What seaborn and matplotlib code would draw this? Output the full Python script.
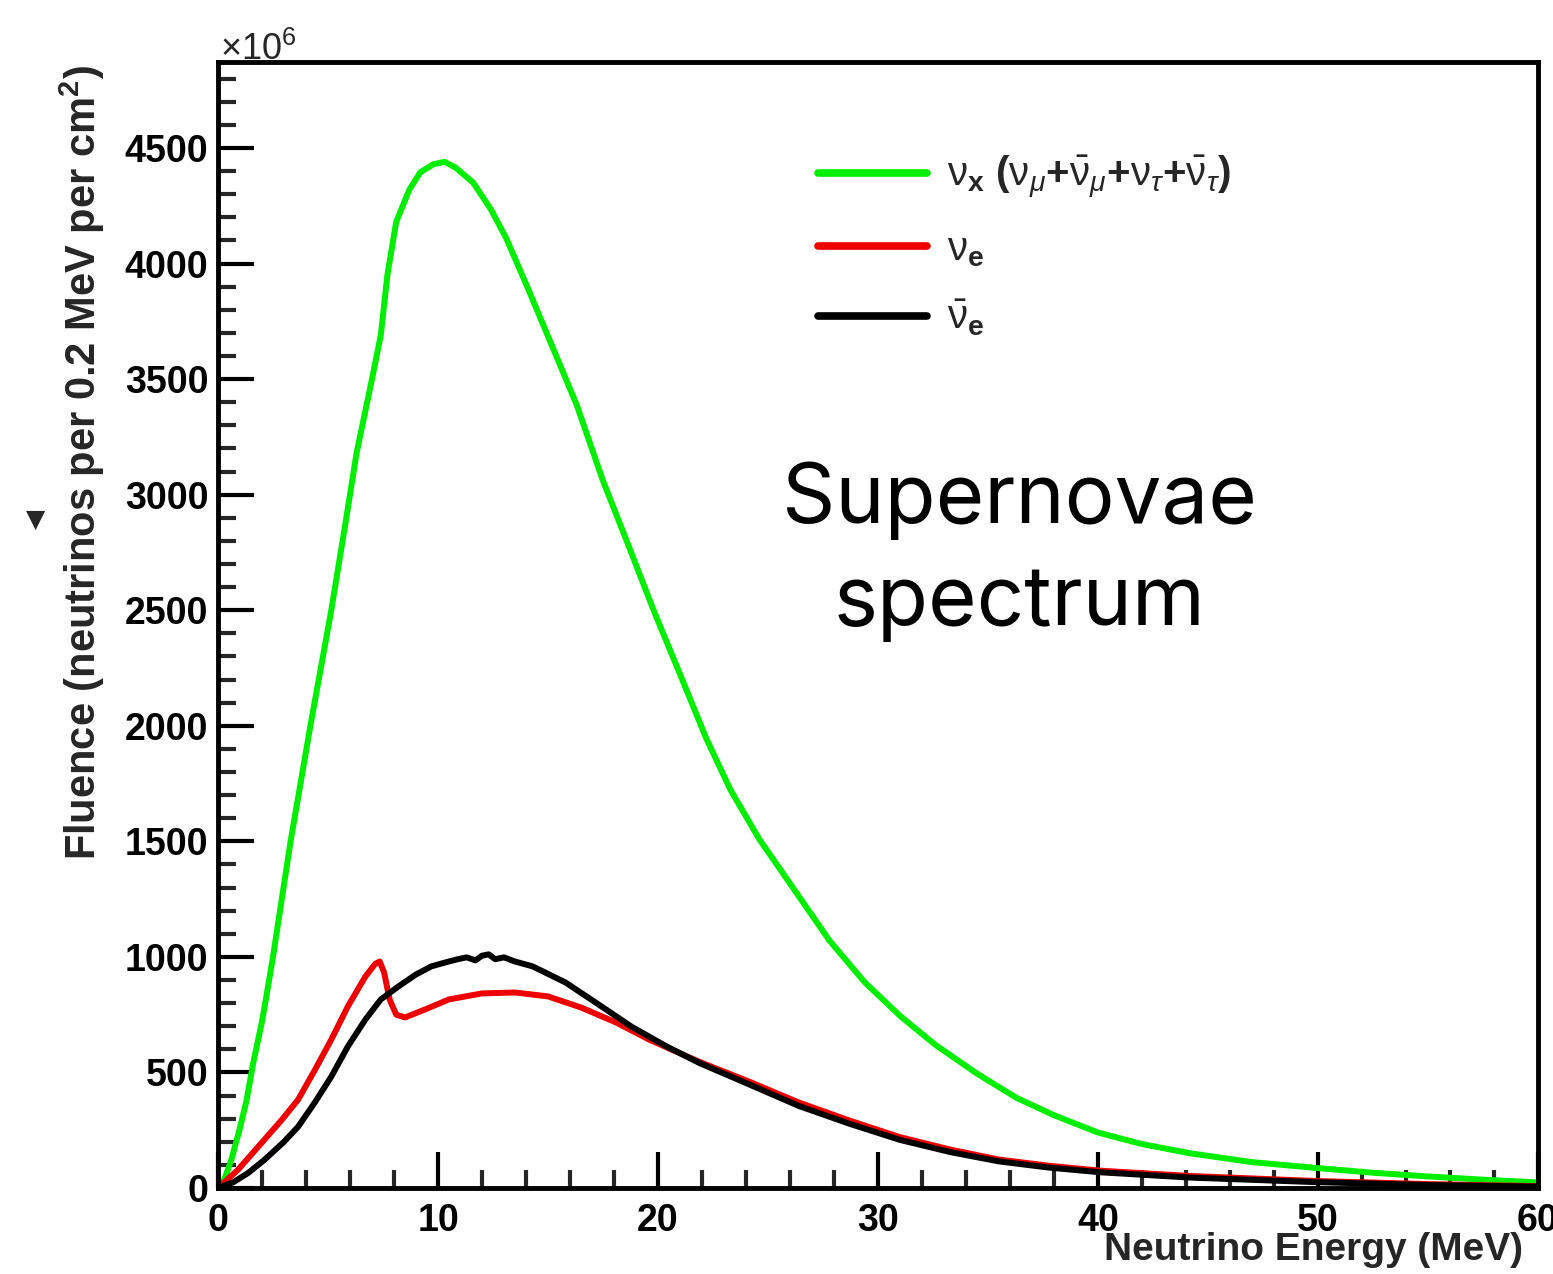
import matplotlib
matplotlib.use("Agg")
import matplotlib.pyplot as plt
from matplotlib.ticker import MultipleLocator, FixedLocator
import numpy as np
import pandas as pd
import seaborn as sns

# ---------------- data ----------------
energy_nux = [0, 0.3, 0.6, 1.0, 1.3, 1.6, 2.0, 2.2, 2.5, 3.3, 4.2, 5.15, 5.8, 6.3, 7.0,
              7.4, 7.7, 8.1, 8.7, 9.2, 9.8, 10.3, 10.8, 11.6, 12.4, 13.1, 14.1, 15.2,
              16.3, 17.5, 18.7, 19.8, 21.1, 22.2, 23.3, 24.6, 26.2, 27.8, 29.4, 31.0,
              32.6, 34.5, 36.3, 38.0, 40.0, 42.0, 44.2, 47.0, 50.0, 52.5, 55.0, 57.5, 60.0]
fluence_nux = [0, 40, 120, 260, 380, 540, 720, 830, 1000, 1500, 2000, 2500, 2880, 3180, 3500,
               3690, 3950, 4180, 4320, 4395, 4430, 4440, 4415, 4350, 4235, 4110, 3890, 3640,
               3390, 3060, 2770, 2500, 2200, 1944, 1722, 1510, 1290, 1070, 890, 745,
               620, 495, 390, 315, 240, 190, 150, 112, 86, 66, 50, 36, 24]

energy_nue = [0, 0.9, 2.1, 2.9, 3.64, 4.4, 5.15, 5.9, 6.7, 7.15, 7.35, 7.55, 7.8, 8.1, 8.5,
              9.4, 10.5, 12.0, 13.5, 15.0, 16.5, 18.1, 19.6, 21.9, 24.1, 26.4, 28.7, 31.0,
              33.3, 35.5, 37.8, 40.1, 44.2, 50.0, 55.0, 60.0]
fluence_nue = [0, 78, 208, 295, 382, 510, 642, 785, 915, 970, 980, 933, 816, 750, 738,
               772, 816, 842, 846, 829, 781, 716, 642, 545, 462, 370, 292, 220,
               166, 123, 96, 75, 52, 30, 17, 8]

energy_nuebar = [0, 0.7, 1.37, 2.1, 3.0, 3.64, 4.4, 5.15, 5.9, 6.7, 7.4, 8.2, 9.0, 9.7, 10.3,
                 10.9, 11.3, 11.7, 12.0, 12.3, 12.6, 13.0, 13.5, 14.3, 15.8, 17.3, 18.8, 20.4,
                 21.9, 24.1, 26.4, 28.7, 31.0, 33.3, 35.5, 37.8, 40.1, 44.2, 50.0, 55.0, 60.0]
fluence_nuebar = [0, 25, 65, 121, 200, 265, 370, 482, 612, 729, 816, 872, 924, 959, 975,
                  990, 998, 985, 1005, 1011, 990, 998, 980, 959, 889, 794, 698, 612,
                  540, 450, 355, 278, 208, 155, 115, 88, 68, 45, 25, 13, 6]

x_ticks = [0, 10, 20, 30, 40, 50, 60]
y_ticks = [0, 500, 1000, 1500, 2000, 2500, 3000, 3500, 4000, 4500]

labels = {
    "nux": r"$\mathrm{\nu}_{\mathbf{x}}\ \mathbf{(}\mathrm{\nu}_{\mu}\mathbf{+}\bar{\mathrm{\nu}}_{\mu}\mathbf{+}\mathrm{\nu}_{\tau}\mathbf{+}\bar{\mathrm{\nu}}_{\tau}\mathbf{)}$",
    "nue": r"$\mathrm{\nu}_{\mathbf{e}}$",
    "nuebar": r"$\bar{\mathrm{\nu}}_{\mathbf{e}}$",
}
colors = {"nux": "#00ee00", "nue": "#ee0000", "nuebar": "#000000"}

# ---------------- style ----------------
sns.set_theme(style="white")
plt.rcParams["font.family"] = ["Liberation Sans", "DejaVu Sans"]
plt.rcParams["mathtext.fontset"] = "custom"
plt.rcParams["mathtext.rm"] = "Liberation Sans"
plt.rcParams["mathtext.it"] = "Liberation Sans:italic"
plt.rcParams["mathtext.bf"] = "Liberation Sans:bold"

W, H = 1553, 1274
fig = plt.figure(figsize=(W / 100, H / 100), dpi=100)
ax = fig.add_axes([218 / W, 1 - 1188 / H, 1320 / W, 1126 / H])

series = [("nux", energy_nux, fluence_nux),
          ("nue", energy_nue, fluence_nue),
          ("nuebar", energy_nuebar, fluence_nuebar)]
for key, e, f in series:
    df = pd.DataFrame({"energy": e, "fluence": f})
    sns.lineplot(data=df, x="energy", y="fluence", color=colors[key], linewidth=4.3,
                 estimator=None, ax=ax, label=labels[key])

ax.set_xlim(0, 60)
ax.set_ylim(0, 4872)
ax.xaxis.set_major_locator(FixedLocator(x_ticks))
ax.yaxis.set_major_locator(FixedLocator(y_ticks))
ax.xaxis.set_minor_locator(MultipleLocator(2))
ax.yaxis.set_minor_locator(MultipleLocator(100))
ax.set_xticklabels([str(t) for t in x_ticks])
ax.set_yticklabels([str(t) for t in y_ticks])

ax.tick_params(axis="both", which="major", direction="in", length=26, width=3,
               labelsize=27, colors="black", bottom=True, left=True, top=False, right=False)
ax.tick_params(axis="both", which="minor", direction="in", length=13, width=3,
               bottom=True, left=True, top=False, right=False)
ax.tick_params(axis="y", which="major", pad=7)
ax.tick_params(axis="x", which="major", pad=11)
for lab in ax.get_xticklabels() + ax.get_yticklabels():
    lab.set_fontweight("bold")

for sp in ax.spines.values():
    sp.set_visible(True)
    sp.set_color("black")
    sp.set_linewidth(3.5)

ax.set_xlabel("Neutrino Energy (MeV)", fontsize=28, fontweight="bold", loc="right")
ax.xaxis.set_label_coords(0.9886, -0.039)
ax.set_ylabel(r"Fluence (neutrinos per 0.2 MeV per cm$^{\mathbf{2}}$)", fontsize=30,
              fontweight="bold", loc="top")
ax.yaxis.set_label_coords(-0.084, 0.997)

leg = ax.legend(loc="upper left", bbox_to_anchor=(0.4545, 0.918), frameon=False,
                fontsize=29, handlelength=2.7, handletextpad=0.5, labelspacing=0.72,
                borderpad=0, borderaxespad=0)
for ln in leg.get_lines():
    ln.set_linewidth(5.5)

ax.text(0.6075, 0.565, "Supernovae\nspectrum", transform=ax.transAxes, ha="center",
        va="center", fontsize=60, family=["Inter", "DejaVu Sans"], linespacing=1.38,
        color="black")

fig.text(220 / W, 1 - 60 / H, r"$\times10^{6}$", fontsize=26, ha="left", va="baseline")
fig.text(36 / W, 1 - 520 / H, "\u25BC", fontsize=18, ha="center", va="center",
         family=["DejaVu Sans"])

fig.savefig("out.png", dpi=100, facecolor="white")
